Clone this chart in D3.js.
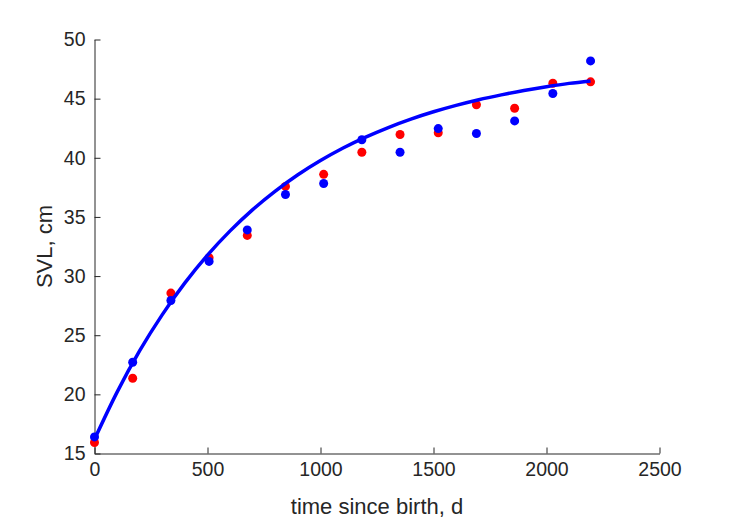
<!DOCTYPE html>
<html><head><meta charset="utf-8">
<script src="https://cdn.jsdelivr.net/npm/d3@7"></script>
<style>body{margin:0;background:#fff}svg{display:block}text{font-family:"Liberation Sans",Arial,Helvetica,sans-serif;fill:#262626}</style>
</head><body>
<script>
const days = [0,169,338,507,676,845,1014,1183,1352,1521,1690,1859,2028,2195];
const redSVL = [15.93,21.36,28.56,31.55,33.44,37.58,38.6,40.47,41.97,42.11,44.48,44.19,46.3,46.42];
const blueSVL = [16.4,22.71,27.93,31.24,33.9,36.9,37.83,41.52,40.47,42.47,42.05,43.12,45.43,48.19];
const fitDays = [0,100,200,300,400,500,600,700,800,900,1000,1100,1200,1300,1400,1500,1600,1700,1800,1900,2000,2100,2195];
const fitSVL = [16.2,20.19,23.69,26.74,29.42,31.77,33.82,35.62,37.19,38.57,39.77,40.83,41.75,42.56,43.27,43.89,44.43,44.91,45.32,45.69,46.01,46.29,46.5];
const xTicks = [0,500,1000,1500,2000,2500];
const yTicks = [15,20,25,30,35,40,45,50];

const W=729,H=521, L=94.5, R=659.5, T=39.5, B=453.5;
const svg=d3.select("body").append("svg").attr("width",W).attr("height",H);
const x=d3.scaleLinear().domain([0,2500]).range([L,R]);
const y=d3.scaleLinear().domain([15,50]).range([B,T]);

const gx=svg.append("g").attr("transform",`translate(0,${B})`)
 .call(d3.axisBottom(x).tickValues(xTicks).tickFormat(d3.format("d")).tickSizeInner(-6).tickSizeOuter(0).tickPadding(9));
const gy=svg.append("g").attr("transform",`translate(${L},0)`)
 .call(d3.axisLeft(y).tickValues(yTicks).tickFormat(d3.format("d")).tickSizeInner(-6).tickSizeOuter(0).tickPadding(9));
[gx,gy].forEach(g=>{g.selectAll("path,line").attr("stroke","#262626");g.selectAll("text").attr("font-size",19.5).attr("fill","#262626").style("font-family",'"Liberation Sans",Arial,sans-serif');});

svg.append("text").attr("x",(L+R)/2).attr("y",514).attr("text-anchor","middle").attr("font-size",22).text("time since birth, d");
svg.append("text").attr("transform",`translate(52,${(T+B)/2}) rotate(-90)`).attr("text-anchor","middle").attr("font-size",22).text("SVL, cm");

svg.append("g").selectAll("circle").data(days).join("circle")
 .attr("cx",(d)=>x(d)).attr("cy",(d,i)=>y(redSVL[i])).attr("r",4.5).attr("fill","#ff0000");
svg.append("g").selectAll("circle").data(days).join("circle")
 .attr("cx",(d)=>x(d)).attr("cy",(d,i)=>y(blueSVL[i])).attr("r",4.5).attr("fill","#0000ff");
const line=d3.line().x((d,i)=>x(fitDays[i])).y(d=>y(d)).curve(d3.curveMonotoneX);
svg.append("path").datum(fitSVL).attr("d",line).attr("fill","none").attr("stroke","#0000ff").attr("stroke-width",3.5);
</script>
</body></html>
